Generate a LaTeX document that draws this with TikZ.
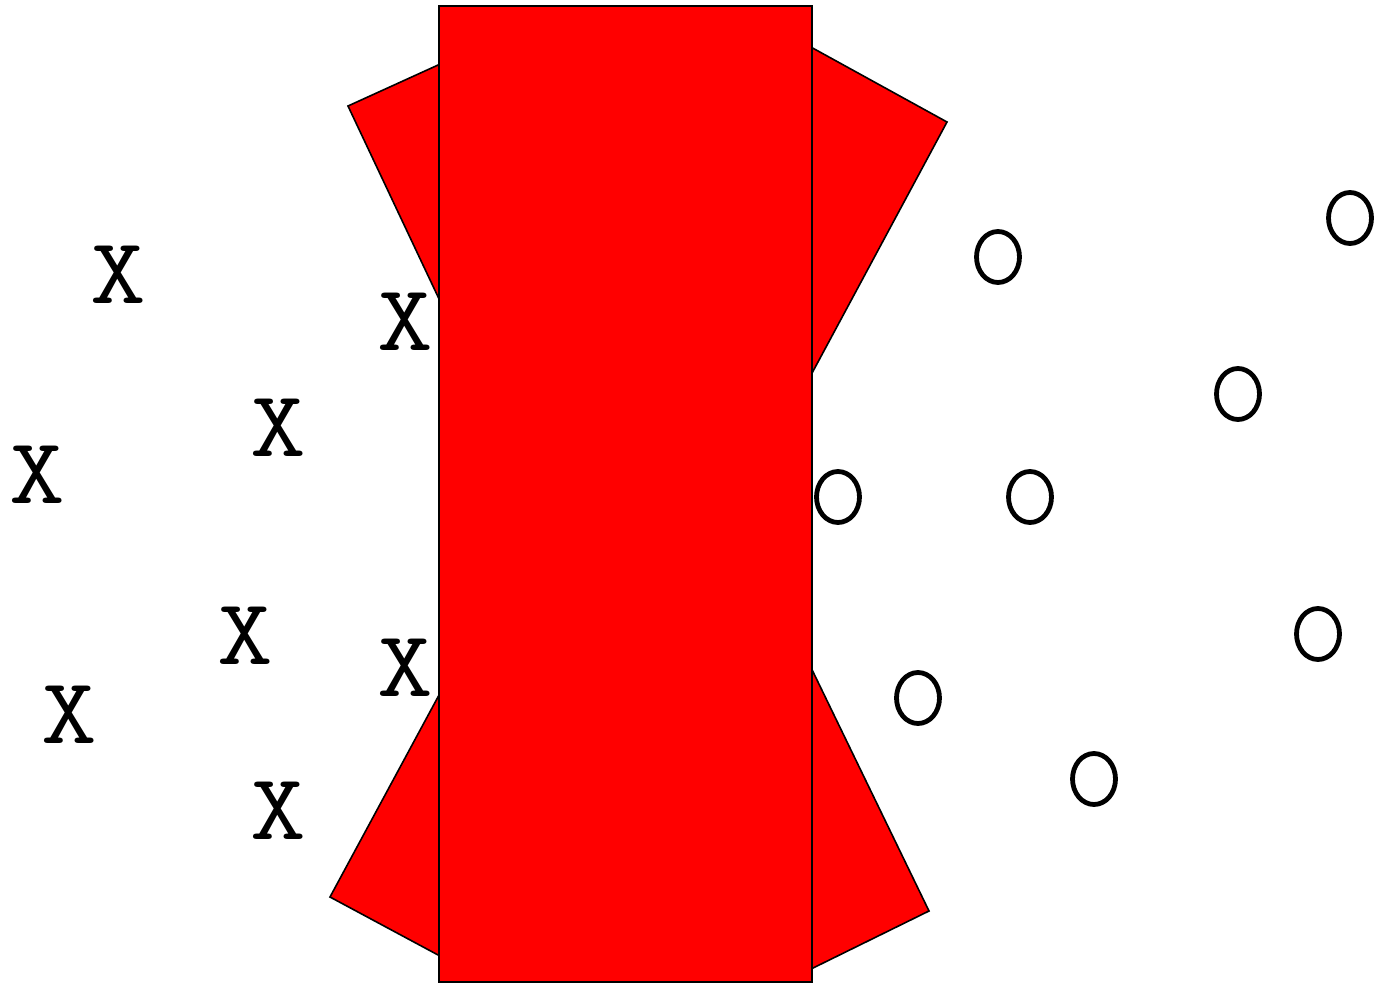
\documentclass[tikz,border=0pt]{standalone}
\tikzset{
  redshape/.style={fill=red, draw=black, line width=1.6pt, line join=miter},
  xmark/.style={inner sep=0pt, font=\ttfamily\fontsize{94}{94}\selectfont},
  omark/.style={ellipse, draw=black, line width=4.8pt, minimum width=43pt, minimum height=51pt, inner sep=0pt},
}
\usetikzlibrary{shapes.geometric}
\newcommand{\xglyph}{\scalebox{1.15}[1]{X}}
\begin{document}
\begin{tikzpicture}[x=1pt,y=-1pt]
\useasboundingbox (0,0) rectangle (1374,984);
\clip (0,0) rectangle (1374,984);
\begin{scope}
\clip (300,10) rectangle (1000,976);
% top kite
\filldraw[redshape] (348,106) -- (660,-36) -- (947,122) -- (632,708) -- cycle;
% bottom kite
\filldraw[redshape] (642,319) -- (929,911) -- (630,1058) -- (330,897) -- cycle;
\end{scope}
% central rectangle
\node[redshape, rectangle, minimum width=373pt, minimum height=976pt, inner sep=0pt, anchor=north west] (rect) at (438,5) {};
% X marks
\node[xmark] (x1) at (118,275) {\xglyph};
\node[xmark] (x2) at (405,322) {\xglyph};
\node[xmark] (x3) at (278,428) {\xglyph};
\node[xmark] (x4) at (37,475) {\xglyph};
\node[xmark] (x5) at (245,636) {\xglyph};
\node[xmark] (x6) at (405,668) {\xglyph};
\node[xmark] (x7) at (69,715) {\xglyph};
\node[xmark] (x8) at (278,811) {\xglyph};
% O marks
\node[omark] (o1) at (998,257) {};
\node[omark] (o2) at (1350,218) {};
\node[omark] (o3) at (1238,394) {};
\node[omark] (o4) at (838,497) {};
\node[omark] (o5) at (1030,497) {};
\node[omark] (o6) at (1318,634) {};
\node[omark] (o7) at (918,698) {};
\node[omark] (o8) at (1094,779) {};
\end{tikzpicture}
\end{document}
